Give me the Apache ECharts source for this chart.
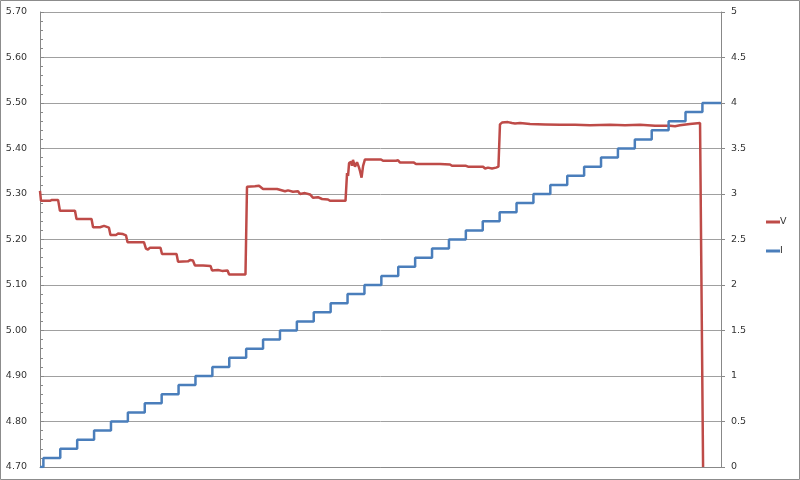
<!DOCTYPE html>
<html>
<head>
<meta charset="utf-8">
<script src="https://cdn.jsdelivr.net/npm/echarts@6/dist/echarts.min.js"></script>
<style>
html,body{margin:0;padding:0;background:#fff;}
#c{width:800px;height:480px;}
</style>
</head>
<body>
<div id="c"></div>
<script>
// Voltage samples (time, volts)
var vTime = [0, 0.6, 5.9, 7.1, 10.7, 11.2, 11.8, 20.7, 21.6, 30.5,
  31.4, 35.5, 36.1, 37.9, 38.5, 40.8, 41.7, 45.0, 46.2, 49.1,
  50.9, 51.8, 61.5, 62.7, 63.9, 65.1, 71.3, 72.2, 80.8, 81.7,
  87.6, 88.8, 90.5, 91.7, 96.5, 97.6, 100.9, 101.8, 105.3, 107.7,
  111.0, 111.9, 121.6, 122.5, 127.2, 129.6, 132.0, 140.3, 141.4, 145.0,
  146.8, 149.7, 152.7, 153.9, 156.8, 159.8, 161.5, 164.5, 166.9, 170.4,
  171.6, 180.8, 181.7, 182.3, 182.9, 184.1, 184.6, 185.2, 186.4, 187.6,
  188.8, 189.4, 190.3, 191.2, 192.3, 201.8, 203.0, 210.7, 211.9, 213.1,
  221.3, 222.5, 236.7, 242.6, 243.8, 252.1, 253.3, 262.2, 263.4, 265.1,
  267.5, 269.9, 271.3, 272.2, 273.4, 276.9, 279.3, 281.1, 284.1, 290.0,
  298.9, 307.7, 316.6, 325.5, 337.3, 346.2, 355.1, 364.0, 372.8, 375.8,
  378.7, 384.6, 390.6, 392.4];
var vVolt = [5.307, 5.285, 5.285, 5.287, 5.287, 5.284, 5.263, 5.263, 5.245, 5.245,
  5.227, 5.227, 5.231, 5.230, 5.227, 5.226, 5.210, 5.210, 5.213, 5.212,
  5.209, 5.194, 5.194, 5.180, 5.178, 5.182, 5.182, 5.168, 5.168, 5.151,
  5.152, 5.155, 5.154, 5.143, 5.143, 5.142, 5.142, 5.132, 5.133, 5.131,
  5.132, 5.123, 5.123, 5.316, 5.317, 5.318, 5.311, 5.311, 5.307, 5.306,
  5.308, 5.305, 5.306, 5.300, 5.302, 5.299, 5.292, 5.293, 5.289, 5.288,
  5.285, 5.285, 5.346, 5.340, 5.368, 5.371, 5.362, 5.375, 5.360, 5.370,
  5.358, 5.350, 5.336, 5.362, 5.376, 5.376, 5.373, 5.373, 5.374, 5.369,
  5.369, 5.366, 5.366, 5.365, 5.362, 5.362, 5.360, 5.360, 5.356, 5.358,
  5.356, 5.358, 5.360, 5.453, 5.457, 5.458, 5.456, 5.455, 5.456, 5.454,
  5.453, 5.452, 5.452, 5.451, 5.452, 5.451, 5.452, 5.450, 5.450, 5.449,
  5.451, 5.454, 5.456, 4.700];

// Current step changes (time, amps)
var iTime = [0, 2, 12, 22, 32, 42, 52, 62, 72, 82,
  92, 102, 112, 122, 132, 142, 152, 162, 172, 182,
  192, 202, 212, 222, 232, 242, 252, 262, 272, 282,
  292, 302, 312, 322, 332, 342, 352, 362, 372, 382,
  392, 403];
var iAmp = [0, 0.1, 0.2, 0.3, 0.4, 0.5, 0.6, 0.7, 0.8, 0.9,
  1.0, 1.1, 1.2, 1.3, 1.4, 1.5, 1.6, 1.7, 1.8, 1.9,
  2.0, 2.1, 2.2, 2.3, 2.4, 2.5, 2.6, 2.7, 2.8, 2.9,
  3.0, 3.1, 3.2, 3.3, 3.4, 3.5, 3.6, 3.7, 3.8, 3.9,
  4.0, 4.0];

var seriesNames = ['V', 'I'];

function zip(a, b) { return a.map(function (x, k) { return [x, b[k]]; }); }

var chart = echarts.init(document.getElementById('c'), null, {renderer: 'canvas'});
var labelFont = {fontFamily: 'DejaVu Sans', fontSize: 9.5, color: '#333'};
chart.setOption({
  animation: false,
  backgroundColor: '#fff',
  textStyle: {fontFamily: 'DejaVu Sans'},
  grid: {left: 40, right: 79, top: 12, bottom: 13, containLabel: false},
  legend: {
    orient: 'vertical', left: 766, top: 216, padding: 0,
    icon: 'rect',
    itemWidth: 14, itemHeight: 3, itemGap: 17,
    data: seriesNames,
    textStyle: {fontFamily: 'DejaVu Sans', fontSize: 9.5, color: '#333', padding: [0, 0, 0, -5], lineHeight: 12}
  },
  xAxis: {
    type: 'value', min: 0, max: 403,
    axisLabel: {show: false}, axisTick: {show: false},
    splitLine: {show: false},
    axisLine: {show: true, onZero: false, lineStyle: {color: '#888', width: 1}}
  },
  yAxis: [{
    type: 'value', min: 4.7, max: 5.7, interval: 0.1, position: 'left',
    axisLine: {show: true, lineStyle: {color: '#888', width: 1}},
    axisTick: {show: true, inside: true, length: 4, lineStyle: {color: '#888'}},
    minorTick: {show: true, splitNumber: 5, length: 3, lineStyle: {color: '#888'}},
    splitLine: {show: true, lineStyle: {color: '#a0a0a0', width: 1}},
    axisLabel: Object.assign({margin: 13, formatter: function (v) { return v.toFixed(2); }}, labelFont)
  }, {
    type: 'value', min: 0, max: 5, interval: 0.5, position: 'right',
    axisLine: {show: true, lineStyle: {color: '#888', width: 1}},
    axisTick: {show: true, inside: false, length: 4, lineStyle: {color: '#888'}},
    splitLine: {show: false},
    axisLabel: Object.assign({margin: 10}, labelFont)
  }],
  series: [{
    name: 'V', type: 'line', yAxisIndex: 0,
    data: zip(vTime, vVolt),
    showSymbol: false, symbol: 'none',
    lineStyle: {color: '#BE4B48', width: 2.5},
    itemStyle: {color: '#BE4B48'}
  }, {
    name: 'I', type: 'line', yAxisIndex: 1, step: 'end',
    data: zip(iTime, iAmp),
    showSymbol: false, symbol: 'none',
    lineStyle: {color: '#4A7EBB', width: 2.5},
    itemStyle: {color: '#4A7EBB'}
  }],
  graphic: [{
    type: 'rect', silent: true, z: 100,
    shape: {x: 0.5, y: 0.5, width: 799, height: 479},
    style: {fill: null, stroke: '#8c8c8c', lineWidth: 1}
  }]
});
</script>
</body>
</html>
